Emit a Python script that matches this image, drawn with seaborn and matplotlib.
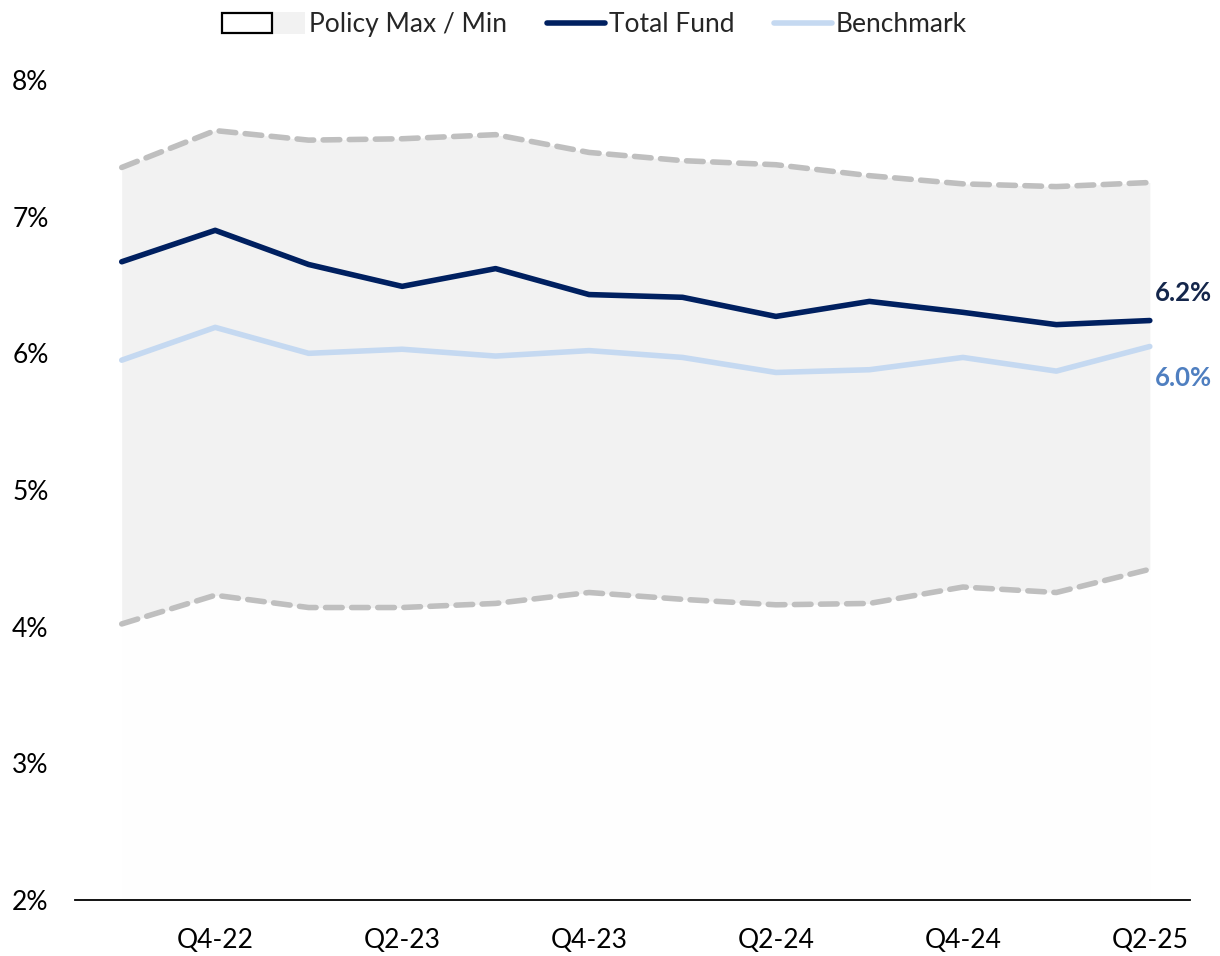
import matplotlib
matplotlib.use("Agg")
import matplotlib.pyplot as plt
import seaborn as sns
import pandas as pd
from matplotlib.patches import Rectangle
from matplotlib.lines import Line2D
from matplotlib.ticker import FuncFormatter

quarters = ["Q3-22", "Q4-22", "Q1-23", "Q2-23", "Q3-23", "Q4-23",
            "Q1-24", "Q2-24", "Q3-24", "Q4-24", "Q1-25", "Q2-25"]
total_fund = [6.67, 6.90, 6.65, 6.49, 6.62, 6.43, 6.41, 6.27, 6.38, 6.30, 6.21, 6.24]
benchmark = [5.95, 6.19, 6.00, 6.03, 5.98, 6.02, 5.97, 5.86, 5.88, 5.97, 5.87, 6.05]
policy_max = [7.36, 7.63, 7.56, 7.57, 7.60, 7.47, 7.41, 7.38, 7.30, 7.24, 7.22, 7.25]
policy_min = [4.02, 4.23, 4.14, 4.14, 4.17, 4.25, 4.20, 4.16, 4.17, 4.29, 4.25, 4.42]

sns.set_theme(style="white")
plt.rcParams["font.family"] = ["Lato", "DejaVu Sans"]

df = pd.DataFrame({
    "i": range(len(quarters)),
    "quarter": quarters,
    "Total Fund": total_fund,
    "Benchmark": benchmark,
    "max": policy_max,
    "min": policy_min,
})

fig = plt.figure(figsize=(12.2, 9.56), dpi=100)
ax = fig.add_axes([75 / 1220, 56 / 956, (1190 - 75) / 1220, 820 / 956])

band_color = "#f2f2f2"
dash_color = "#bfbfbf"
fund_color = "#002060"
bench_color = "#c5d9f1"

# policy range band
ax.fill_between(df["i"], 2, df["min"], color="#fefefe", lw=0)
ax.fill_between(df["i"], df["min"], df["max"], color=band_color, lw=0)
for col in ["max", "min"]:
    sns.lineplot(data=df, x="i", y=col, ax=ax, color=dash_color, lw=4,
                 linestyle=(0, (3, 1.7)), dash_capstyle="round")

sns.lineplot(data=df, x="i", y="Benchmark", ax=ax, color=bench_color, lw=4,
             solid_capstyle="round")
sns.lineplot(data=df, x="i", y="Total Fund", ax=ax, color=fund_color, lw=4,
             solid_capstyle="round")

# end-of-series value labels
last = len(quarters) - 1
ax.annotate(f"{total_fund[-1]:.1f}%", (last, total_fund[-1]), xytext=(4, 20),
            textcoords="offset points", ha="left", va="center",
            fontsize=18.5, fontweight="bold", color="#14264b")
ax.annotate(f"{benchmark[-1]:.1f}%", (last, benchmark[-1]), xytext=(4, -23),
            textcoords="offset points", ha="left", va="center",
            fontsize=18.5, fontweight="bold", color="#4f7fc0")

ax.set_xlim(-0.5, 11.43)
ax.set_ylim(2, 8)
ax.set_yticks(range(2, 9))
ax.yaxis.set_major_formatter(FuncFormatter(lambda v, p: f"{v:.0f}%"))
ax.set_xticks(df["i"][1::2])
ax.set_xticklabels(df["quarter"][1::2])
ax.tick_params(axis="both", labelsize=19, colors="black", length=0)
ax.tick_params(axis="y", pad=19)
ax.tick_params(axis="x", pad=20)
ax.set_xlabel("")
ax.set_ylabel("")
for s in ["top", "right", "left"]:
    ax.spines[s].set_visible(False)
ax.spines["bottom"].set_color("black")
ax.spines["bottom"].set_linewidth(1.3)


class RangeHandler:
    """Legend key: outlined box with a shaded band behind its right edge."""

    def legend_artist(self, legend, orig_handle, fontsize, handlebox):
        x0, y0 = handlebox.xdescent, handlebox.ydescent
        w, h = handlebox.width, handlebox.height
        start = x0 + w - 60
        band = Rectangle((start + 29, y0 - 1), 31, h + 2, facecolor=band_color,
                         edgecolor="none", transform=handlebox.get_transform())
        box = Rectangle((start, y0 - 0.5), 36, h + 1, facecolor="white",
                        edgecolor="black", lw=1.6,
                        transform=handlebox.get_transform())
        handlebox.add_artist(band)
        handlebox.add_artist(box)
        return box


range_key = object()
handles = [
    range_key,
    Line2D([], [], color=fund_color, lw=4, solid_capstyle="round"),
    Line2D([], [], color=bench_color, lw=4, solid_capstyle="round"),
]
labels = ["Policy Max / Min", "Total Fund", "Benchmark"]
fig.legend(handles, labels, loc="upper center", bbox_to_anchor=(0.4975, 1.012),
           ncol=3, frameon=False, fontsize=19, handlelength=2.2,
           handletextpad=0.15, columnspacing=1.5,
           handler_map={range_key: RangeHandler()})

fig.savefig("out.png", dpi=100)
